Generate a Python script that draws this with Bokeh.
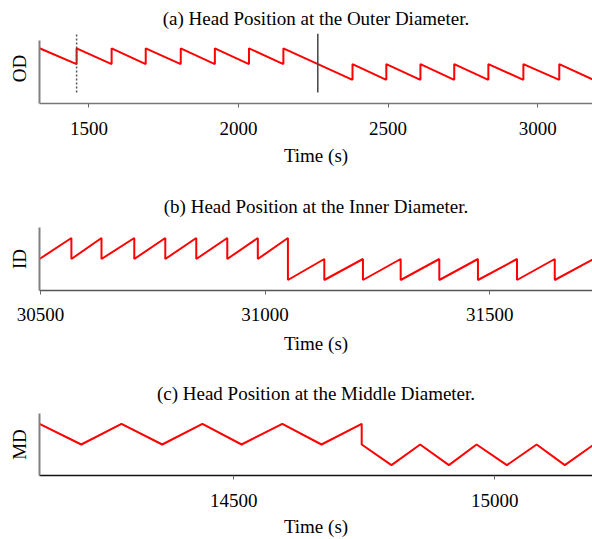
from bokeh.plotting import figure
from bokeh.layouts import column
from bokeh.models import Range1d, FixedTicker
from bokeh.embed import file_html
from bokeh.resources import INLINE

# ---------------- data ----------------
# (a) Outer diameter: time (s) and head position
od_t = [1335, 1459, 1459, 1576, 1576, 1690, 1690, 1807, 1807, 1921, 1921,
        2035, 2035, 2150, 2150, 2381, 2381, 2494, 2494, 2608, 2608, 2721,
        2721, 2835, 2835, 2952, 2952, 3072, 3072, 3183]
od_y = [3.5, 2.5, 3.5, 2.5, 3.5, 2.5, 3.5, 2.5, 3.5, 2.5, 3.5,
        2.5, 3.5, 2.5, 3.5, 1.5, 2.5, 1.5, 2.5, 1.5, 2.5, 1.5,
        2.5, 1.5, 2.5, 1.5, 2.5, 1.5, 2.5, 1.53]
od_marker_dotted = [1459]
od_marker_solid = [2265]
od_marker_lo = 0.69
od_marker_hi = 4.44
od_ticks = [1500, 2000, 2500, 3000]

# (b) Inner diameter
id_t = [30498, 30569, 30569, 30636, 30636, 30709, 30709, 30778, 30778,
        30847, 30847, 30916, 30916, 30984, 30984, 31051, 31051, 31132,
        31132, 31218, 31218, 31302, 31302, 31388, 31388, 31474, 31474,
        31561, 31561, 31645, 31645, 31729]
id_y = [1.5, 2.5, 1.5, 2.5, 1.5, 2.5, 1.5, 2.5, 1.5,
        2.5, 1.5, 2.5, 1.5, 2.5, 1.5, 2.5, 0.5, 1.5,
        0.5, 1.5, 0.5, 1.5, 0.5, 1.5, 0.5, 1.5, 0.5,
        1.5, 0.5, 1.5, 0.5, 1.47]
id_ticks = [30500, 31000, 31500]

# (c) Middle diameter
md_t = [14128, 14208, 14285, 14363, 14440, 14515, 14593, 14668, 14745,
        14745, 14802, 14857, 14912, 14965, 15023, 15080, 15134, 15187]
md_y = [2.5, 1.5, 2.5, 1.5, 2.5, 1.5, 2.5, 1.5, 2.5,
        1.5, 0.5, 1.5, 0.5, 1.5, 0.5, 1.5, 0.5, 1.45]
md_ticks = [14500, 15000]

titles = ["(a) Head Position at the Outer Diameter.",
          "(b) Head Position at the Inner Diameter.",
          "(c) Head Position at the Middle Diameter."]
ylabels = ["OD", "ID", "MD"]
xlabel = "Time (s)"

FONT = "Liberation Serif"
FS = "19px"
TFS = "19px"


def make_panel(t, y, ticks, title, ylabel, xr, yr, ybounds, height, top, bottom,
               title_standoff, bottom_axis_color, lab_standoff=14, ax_standoff=7):
    p = figure(width=592, height=height, output_backend="svg", toolbar_location=None,
               x_range=Range1d(*xr), y_range=Range1d(*yr),
               min_border_left=39, min_border_right=0,
               min_border_top=top, min_border_bottom=bottom)
    p.title.text = title
    p.title.text_font = FONT
    p.title.text_font_size = TFS
    p.title.text_font_style = "normal"
    p.title.text_color = "black"
    p.title.align = "center"
    p.title.standoff = title_standoff
    p.outline_line_color = None
    p.grid.visible = False
    p.background_fill_color = "white"
    p.border_fill_color = "white"

    p.line(t, y, line_color="#ff0000", line_width=2)

    xa = p.xaxis[0]
    xa.ticker = FixedTicker(ticks=ticks)
    xa.minor_tick_line_color = None
    xa.major_tick_in = 0
    xa.major_tick_out = 4
    xa.major_tick_line_color = "#666666"
    xa.axis_line_color = bottom_axis_color
    xa.axis_line_width = 1.5
    xa.major_label_text_font = FONT
    xa.major_label_text_font_size = FS
    xa.major_label_text_color = "black"
    xa.major_label_standoff = lab_standoff
    xa.axis_label = xlabel
    xa.axis_label_text_font = FONT
    xa.axis_label_text_font_size = FS
    xa.axis_label_text_font_style = "normal"
    xa.axis_label_text_color = "black"
    xa.axis_label_standoff = ax_standoff

    ya = p.yaxis[0]
    ya.ticker = FixedTicker(ticks=[])
    ya.minor_tick_line_color = None
    ya.axis_line_color = "#808080"
    ya.axis_line_width = 2
    ya.bounds = ybounds
    ya.axis_label = ylabel
    ya.axis_label_text_font = FONT
    ya.axis_label_text_font_size = FS
    ya.axis_label_text_font_style = "normal"
    ya.axis_label_text_color = "black"
    ya.axis_label_standoff = 10
    return p


pa = make_panel(od_t, od_y, od_ticks, titles[0], ylabels[0],
                (od_t[0], od_t[-1]), (0, 4.4375), (0, 4), 178, 32, 75, 10, "#777777",
                lab_standoff=14, ax_standoff=7)
pa.segment(x0=od_marker_dotted, y0=[od_marker_lo], x1=od_marker_dotted, y1=[od_marker_hi],
           line_color="#555555", line_width=1.5, line_dash="2 2")
pa.segment(x0=od_marker_solid, y0=[od_marker_lo], x1=od_marker_solid, y1=[od_marker_hi],
           line_color="#444444", line_width=1.5)

pb = make_panel(id_t, id_y, id_ticks, titles[1], ylabels[1],
                (id_t[0], id_t[-1]), (0, 3), (0, 3), 178, 49, 66, 21, "#555555",
                lab_standoff=13, ax_standoff=9)

pc = make_panel(md_t, md_y, md_ticks, titles[2], ylabels[2],
                (md_t[0], md_t[-1]), (0, 3), (0, 3), 183, 57, 61, 19, "#111111",
                lab_standoff=14, ax_standoff=6)

layout = column(pa, pb, pc, spacing=0)

open("out.html", "w").write(file_html(layout, INLINE))
